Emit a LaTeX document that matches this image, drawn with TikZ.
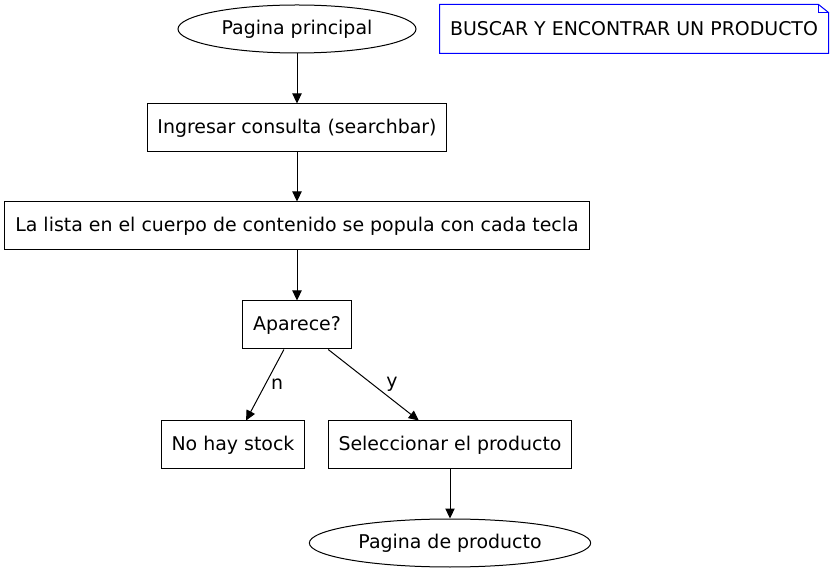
\documentclass[tikz,border=0pt]{standalone}
\usepackage{fontspec}
\setmainfont{DejaVu Sans}
\usetikzlibrary{shapes, arrows.meta, positioning, calc}

\begin{document}
\begin{tikzpicture}[x=0.75pt, y=-0.75pt, line width=0.75pt,
  font=\fontsize{14.2}{17}\selectfont,
  box/.style={draw, rectangle, minimum height=36pt, inner xsep=7.8pt},
  term/.style={draw, ellipse, minimum height=36pt, inner sep=0pt},
  flow/.style={-{Triangle[length=7.5pt, width=7pt]}}]
\useasboundingbox (0,0) rectangle (832,573);

% start and end
\node[term, minimum width=178.5pt] (principal) at (297,29) {Pagina principal};
\node[term, minimum width=211pt] (producto) at (450,543) {Pagina de producto};

% title note
\node[minimum width=291pt, minimum height=36pt, inner sep=0pt] (titulo) at (634,29) {BUSCAR Y ENCONTRAR UN PRODUCTO};
\draw[blue] (titulo.south west) -- (titulo.north west) -- ($(titulo.north east)+(-10,0)$)
  -- ($(titulo.north east)+(0,8)$) -- (titulo.south east) -- cycle;
\draw[blue] ($(titulo.north east)+(-10,0)$) -- ($(titulo.north east)+(-10,8)$) -- ($(titulo.north east)+(0,8)$);

% steps
\node[box] (consulta) at (297,128) {Ingresar consulta (searchbar)};
\node[box] (lista) at (297,226) {La lista en el cuerpo de contenido se popula con cada tecla};
\node[box] (aparece) at (297,325) {Aparece?};
\node[box] (stock) at (233,445) {No hay stock};
\node[box] (seleccionar) at (450,445) {Seleccionar el producto};

% connectors
\draw[flow] (principal) -- (consulta);
\draw[flow] (consulta) -- (lista);
\draw[flow] (lista) -- (aparece);
\draw[flow] (aparece) -- (stock);
\draw[flow] (aparece) -- (seleccionar);
\draw[flow] (seleccionar) -- (producto);

\node (n) at (277,384) {n};
\node (y) at (392,384) {y};
\end{tikzpicture}
\end{document}
